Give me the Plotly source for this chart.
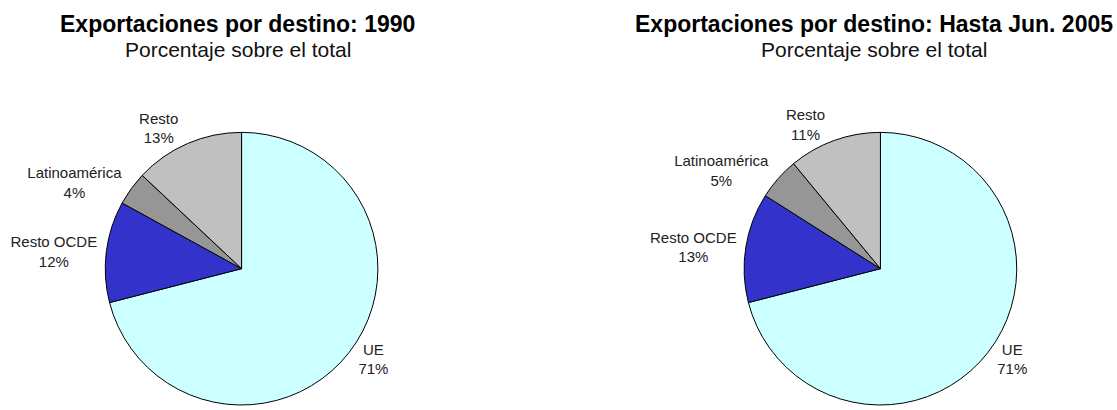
import plotly.graph_objects as go

destinos = ["UE", "Resto OCDE", "Latinoamérica", "Resto"]
valores_1990 = [71, 12, 4, 13]
valores_2005 = [71, 13, 5, 11]
titulos = ["Exportaciones por destino: 1990", "Exportaciones por destino: Hasta Jun. 2005"]
subtitulo = "Porcentaje sobre el total"
colores = ["#CCFFFF", "#3333CC", "#969696", "#C0C0C0"]

W, H = 1117, 410
FONT = "Liberation Sans, Arial, sans-serif"


def pie(values, x0, x1):
    return go.Pie(
        labels=destinos,
        values=values,
        sort=False,
        direction="clockwise",
        rotation=0,
        marker=dict(colors=colores, line=dict(color="black", width=1)),
        texttemplate="%{label}<br>%{value}%",
        textposition="outside",
        textfont=dict(family=FONT, size=15, color="#222222"),
        domain=dict(x=[x0 / W, x1 / W], y=[0, 276 / H]),
        hoverinfo="label+percent",
        showlegend=False,
    )


fig = go.Figure()
fig.add_trace(pie(valores_1990, 101, 379))
fig.add_trace(pie(valores_2005, 741, 1019))

for titulo, cx in zip(titulos, [236, 874]):
    fig.add_annotation(text="<b>%s</b>" % titulo, x=cx / W, y=1 - 24 / H, xref="paper", yref="paper",
                       xanchor="center", yanchor="middle", showarrow=False,
                       font=dict(family=FONT, size=23, color="black"))
    fig.add_annotation(text=subtitulo, x=cx / W, y=1 - 50 / H, xref="paper", yref="paper",
                       xanchor="center", yanchor="middle", showarrow=False,
                       font=dict(family=FONT, size=21, color="#111111"))

fig.update_layout(
    width=W,
    height=H,
    margin=dict(l=0, r=0, t=0, b=0),
    paper_bgcolor="white",
    plot_bgcolor="white",
)

fig.write_html("out.html", config={"displayModeBar": False},
               post_script="document.body.style.margin = '0';")
